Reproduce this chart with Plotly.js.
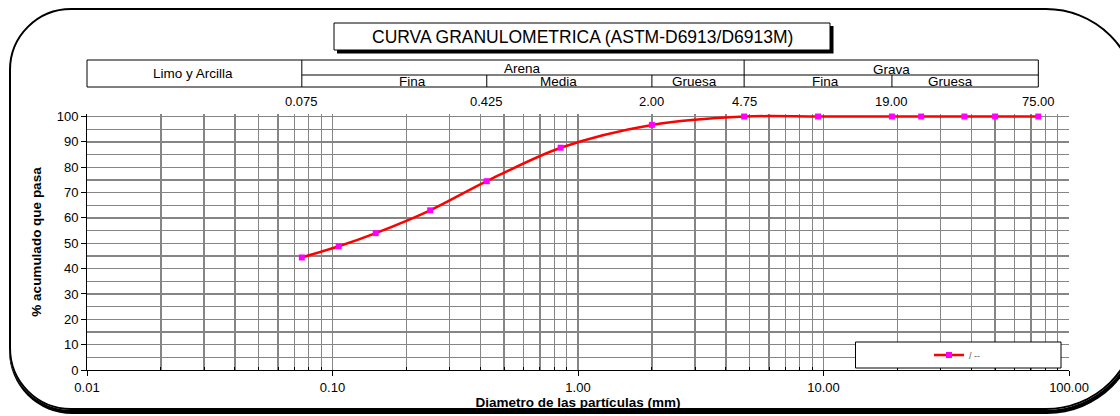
<!DOCTYPE html>
<html>
<head>
<meta charset="utf-8">
<script src="https://cdn.plot.ly/plotly-3.0.1.min.js"></script>
<style>
  html, body { margin: 0; padding: 0; background: #ffffff; }
  #wrap { position: relative; width: 1120px; height: 416px; overflow: hidden; background: #fff; }
  #frame { position: absolute; left: 9px; top: 8px; width: 1125px; height: 398px;
           border: 2px solid #000; border-radius: 62px 92px 92px 62px; box-shadow: 1px 3px 0 1px #000; }
  #chart { position: absolute; left: 0; top: 0; width: 1120px; height: 416px; }
</style>
</head>
<body>
<div id="wrap">
  <div id="frame"></div>
  <div id="chart"></div>
</div>
<script>
// ---- data ----
const sieveSizes = [0.075, 0.106, 0.150, 0.250, 0.425, 0.850, 2.00, 4.75, 9.50, 19.0, 25.0, 37.5, 50.0, 75.0];
const percentPassing = [44.4, 48.8, 54.0, 63.0, 74.5, 87.7, 96.7, 100, 100, 100, 100, 100, 100, 100];
const xTickVals = [0.01, 0.1, 1, 10, 100];
const xTickText = ["0.01", "0.10", "1.00", "10.00", "100.00"];
const limitSizes = [0.075, 0.425, 2.00, 4.75, 19.00, 75.00];
const limitLabels = ["0.075", "0.425", "2.00", "4.75", "19.00", "75.00"];
const groupNames = ["Arena", "Grava"];
const subNames = ["Fina", "Media", "Gruesa", "Fina", "Gruesa"];
const legendName = "/ --";

// ---- layout geometry ----
const W = 1120, H = 416;
const M = {l: 87, r: 51, t: 114, b: 46};
const plotW = W - M.l - M.r, plotH = H - M.t - M.b;
const xr = [-2, 2];
const yr = [0, 101];
const px = v => (Math.log10(v) - xr[0]) / (xr[1] - xr[0]);           // data -> paper x
const pxPix = p => (p - M.l) / plotW;                                   // pixel -> paper x
const pyPix = p => (H - M.b - p) / plotH;                               // pixel -> paper y

const minorVals = [];
for (let e = -2; e < 2; e++) for (let d = 2; d <= 9; d++) minorVals.push(d * Math.pow(10, e));

const shapes = [];
const annotations = [];
const line = {color: '#000', width: 1};
const FONT = 'Liberation Sans, Arial, sans-serif';

// white strip above the 100 % line (hides grid stubs, kept below the trace)
shapes.push({type: 'rect', xref: 'paper', yref: 'y', x0: 0, x1: 1, y0: 100.35, y1: yr[1], fillcolor: '#fff', line: {width: 0}, layer: 'between'});

// title box with shadow
shapes.push({type: 'rect', xref: 'paper', yref: 'paper', x0: pxPix(337), x1: pxPix(833.5), y0: pyPix(53.5), y1: pyPix(26), fillcolor: '#000', line: {width: 0}, layer: 'above'});
shapes.push({type: 'rect', xref: 'paper', yref: 'paper', x0: pxPix(334), x1: pxPix(830), y0: pyPix(50), y1: pyPix(23), fillcolor: '#fff', line: {color: '#000', width: 1}, layer: 'above'});
annotations.push({xref: 'paper', yref: 'paper', x: pxPix(582), y: pyPix(36.5), text: 'CURVA GRANULOMETRICA (ASTM-D6913/D6913M)', showarrow: false, font: {family: FONT, size: 17.5, color: '#000'}, xanchor: 'center', yanchor: 'middle'});

// header table
const tTop = pyPix(60), tMid = pyPix(75), tBot = pyPix(87);
const tL = 0, tR = px(limitSizes[5]);
shapes.push({type: 'rect', xref: 'paper', yref: 'paper', x0: tL, x1: tR, y0: tBot, y1: tTop, line: line, layer: 'above'});
shapes.push({type: 'line', xref: 'paper', yref: 'paper', x0: px(limitSizes[0]), x1: tR, y0: tMid, y1: tMid, line: line, layer: 'above'});
[limitSizes[0], limitSizes[3]].forEach(v => shapes.push({type: 'line', xref: 'paper', yref: 'paper', x0: px(v), x1: px(v), y0: tBot, y1: tTop, line: line, layer: 'above'}));
[limitSizes[1], limitSizes[2], limitSizes[4]].forEach(v => shapes.push({type: 'line', xref: 'paper', yref: 'paper', x0: px(v), x1: px(v), y0: tBot, y1: tMid, line: line, layer: 'above'}));

const tf = {family: FONT, size: 13.5, color: '#000'};
annotations.push({xref: 'paper', yref: 'paper', x: pxPix(193), y: pyPix(73.5), text: 'Limo y Arcilla', showarrow: false, font: tf, xanchor: 'center', yanchor: 'middle'});
annotations.push({xref: 'paper', yref: 'paper', x: (px(limitSizes[0]) + px(limitSizes[3])) / 2, y: pyPix(68), text: groupNames[0], showarrow: false, font: tf, xanchor: 'center', yanchor: 'middle'});
annotations.push({xref: 'paper', yref: 'paper', x: (px(limitSizes[3]) + px(limitSizes[5])) / 2, y: pyPix(69), text: groupNames[1], showarrow: false, font: tf, xanchor: 'center', yanchor: 'middle'});
const subX = [412, 558, 694, 825, 950];
subNames.forEach((s, i) => annotations.push({xref: 'paper', yref: 'paper', x: pxPix(subX[i]), y: pyPix(81.5), text: s, showarrow: false, font: tf, xanchor: 'center', yanchor: 'middle'}));

// sieve limit labels
const lf = {family: FONT, size: 13, color: '#000'};
limitLabels.forEach((s, i) => annotations.push({xref: 'paper', yref: 'paper', x: px(limitSizes[i]), y: pyPix(101), text: s, showarrow: false, font: lf, xanchor: 'center', yanchor: 'middle'}));

// legend box
shapes.push({type: 'rect', xref: 'paper', yref: 'paper', x0: pxPix(855.5), x1: pxPix(1061), y0: pyPix(368), y1: pyPix(342), fillcolor: '#fff', line: {color: '#000', width: 1}, layer: 'above'});

const trace = {
  x: sieveSizes, y: percentPassing, type: 'scatter', mode: 'lines+markers', name: legendName,
  line: {color: '#ff0000', width: 2.5, shape: 'spline', smoothing: 0.9},
  marker: {symbol: 'square', color: '#ff00ff', size: 6},
  cliponaxis: false
};

const grid = '#858585';
const layout = {
  width: W, height: H,
  margin: M,
  paper_bgcolor: 'rgba(0,0,0,0)', plot_bgcolor: '#fff',
  font: {family: FONT, size: 13, color: '#000'},
  showlegend: true,
  legend: {x: pxPix(929), y: pyPix(355), xanchor: 'left', yanchor: 'middle', bgcolor: 'rgba(0,0,0,0)', borderwidth: 0,
           font: {size: 9, color: '#555'}},
  xaxis: {
    type: 'log', range: xr, tickmode: 'array', tickvals: xTickVals, ticktext: xTickText,
    ticks: 'outside', ticklen: 5, tickcolor: '#000', showline: true, linecolor: '#000', linewidth: 1,
    showgrid: true, gridcolor: grid, gridwidth: 1.4,
    minor: {tickmode: 'array', tickvals: minorVals, ticks: 'inside', ticklen: 3, tickcolor: '#000', showgrid: true, gridcolor: grid, gridwidth: 1.4},
    tickfont: {size: 13, color: '#000'},
    title: {text: 'Diametro de las partículas (mm)', font: {size: 13.5, color: '#000', weight: 'bold'}, standoff: 2},
    automargin: false, zeroline: false, fixedrange: true
  },
  yaxis: {
    range: yr, tickmode: 'linear', tick0: 0, dtick: 10,
    ticks: 'outside', ticklen: 5, tickcolor: '#000', showline: true, linecolor: '#000', linewidth: 1,
    showgrid: true, gridcolor: grid, gridwidth: 1.4,
    minor: {dtick: 5, showgrid: true, gridcolor: grid, gridwidth: 1.4},
    tickfont: {size: 13, color: '#000'},
    title: {text: '% acumulado que pasa', font: {size: 13.5, color: '#000', weight: 'bold'}, standoff: 11},
    automargin: false, zeroline: false, fixedrange: true
  },
  shapes: shapes,
  annotations: annotations
};

Plotly.newPlot('chart', [trace], layout, {displayModeBar: false, staticPlot: true});
</script>
</body>
</html>
